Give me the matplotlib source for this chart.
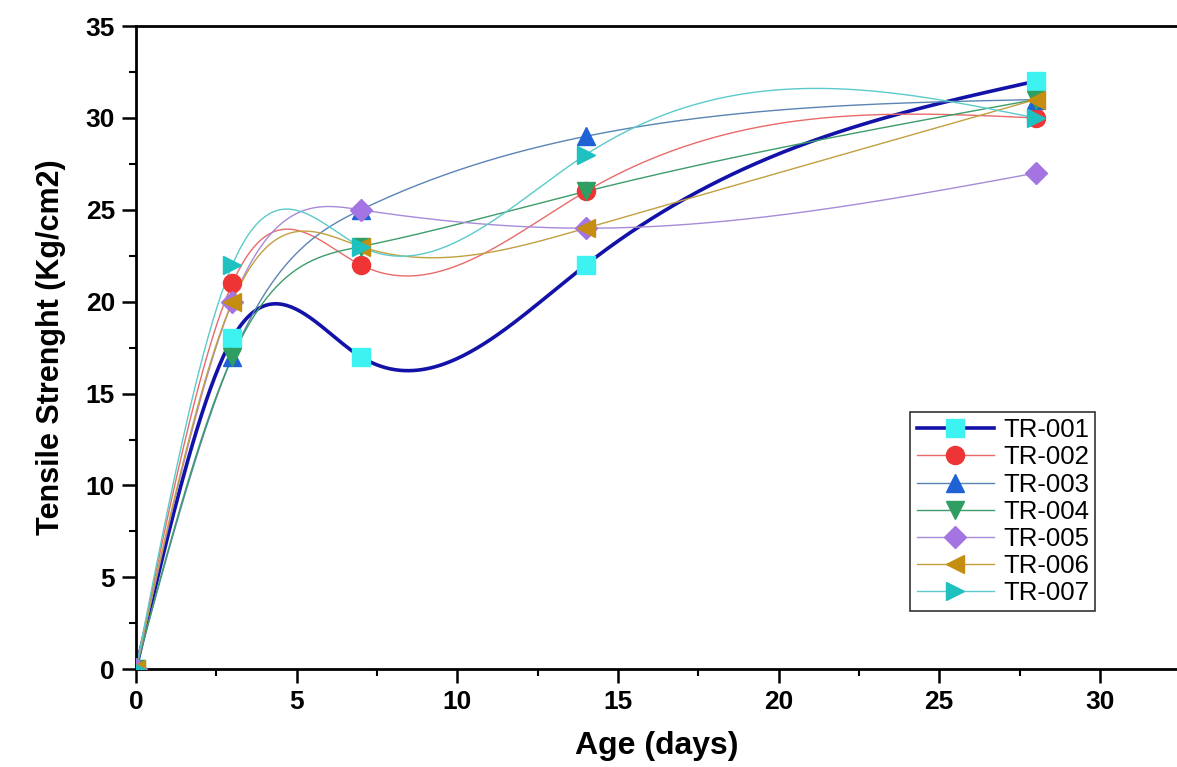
import numpy as np
import matplotlib

matplotlib.use("Agg")
import matplotlib.pyplot as plt
from matplotlib.ticker import MultipleLocator

# test ages (days) and tensile strength per mix
ages = [0, 3, 7, 14, 28]
labels = ["TR-001", "TR-002", "TR-003", "TR-004", "TR-005", "TR-006", "TR-007"]
tr001 = [0, 18, 17, 22, 32]
tr002 = [0, 21, 22, 26, 30]
tr003 = [0, 17, 25, 29, 31]
tr004 = [0, 17, 23, 26, 31]
tr005 = [0, 20, 25, 24, 27]
tr006 = [0, 20, 23, 24, 31]
tr007 = [0, 22, 23, 28, 30]
series = [tr001, tr002, tr003, tr004, tr005, tr006, tr007]


def natural_spline(x, y, xs):
    x = np.asarray(x, dtype=float)
    y = np.asarray(y, dtype=float)
    n = len(x)
    h = np.diff(x)
    A = np.zeros((n, n))
    b = np.zeros(n)
    A[0, 0] = A[-1, -1] = 1.0
    for i in range(1, n - 1):
        A[i, i - 1] = h[i - 1]
        A[i, i] = 2 * (h[i - 1] + h[i])
        A[i, i + 1] = h[i]
        b[i] = 6 * ((y[i + 1] - y[i]) / h[i] - (y[i] - y[i - 1]) / h[i - 1])
    m = np.linalg.solve(A, b)
    idx = np.clip(np.searchsorted(x, xs) - 1, 0, n - 2)
    x0, x1 = x[idx], x[idx + 1]
    hh = x1 - x0
    t0, t1 = x1 - xs, xs - x0
    return (m[idx] * t0**3 / (6 * hh) + m[idx + 1] * t1**3 / (6 * hh)
            + (y[idx] / hh - m[idx] * hh / 6) * t0
            + (y[idx + 1] / hh - m[idx + 1] * hh / 6) * t1)


styles = [
    dict(line="#1212A8", face="#3FF2F2", marker="s", lw=2.6),
    dict(line="#E86A6A", face="#EE3434", marker="o", lw=1.0),
    dict(line="#5A84B4", face="#1F62D6", marker="^", lw=1.0),
    dict(line="#3C9C6A", face="#2E9E62", marker="v", lw=1.0),
    dict(line="#A88AD8", face="#A474E2", marker="D", lw=1.0),
    dict(line="#C2A040", face="#C68E10", marker="<", lw=1.0),
    dict(line="#5CCACA", face="#1EC0C0", marker=">", lw=1.0),
]

plt.rcParams.update({
    "font.family": ["Liberation Sans", "DejaVu Sans"],
    "figure.facecolor": "white",
    "axes.facecolor": "white",
})

fig = plt.figure(figsize=(11.77, 7.67), dpi=100)
ax = fig.add_axes([0.1155, 0.1275, 0.8845, 0.8385])

xs = np.linspace(0, 28, 400)
for name, vals, st in zip(labels, series, styles):
    ys = natural_spline(ages, vals, xs)
    ax.plot(xs, ys, color=st["line"], lw=st["lw"], zorder=2)
    ms = 11 if st["marker"] == "D" else 13
    ax.plot(ages, vals, linestyle="none", marker=st["marker"], ms=ms,
            markerfacecolor=st["face"], markeredgecolor=st["face"], zorder=3)
    # proxy for legend
    ax.plot([], [], color=st["line"], lw=st["lw"], marker=st["marker"], ms=ms,
            markerfacecolor=st["face"], markeredgecolor=st["face"], label=name)

ax.set_xlim(0, 32.4)
ax.set_ylim(0, 35)
ax.xaxis.set_major_locator(MultipleLocator(5))
ax.xaxis.set_minor_locator(MultipleLocator(2.5))
ax.yaxis.set_major_locator(MultipleLocator(5))
ax.yaxis.set_minor_locator(MultipleLocator(2.5))
ax.tick_params(which="major", direction="out", length=10, width=1.8,
               labelsize=19, pad=5)
ax.tick_params(which="minor", direction="out", length=5, width=1.5)
for lab in ax.get_xticklabels() + ax.get_yticklabels():
    lab.set_fontweight("bold")

for side in ["left", "bottom", "top"]:
    ax.spines[side].set_linewidth(2.0)
ax.spines["right"].set_visible(False)

ax.set_xlabel("Age (days)", fontsize=23, fontweight="bold", labelpad=12)
ax.set_ylabel("Tensile Strenght (Kg/cm2)", fontsize=22, fontweight="bold",
              labelpad=14)

leg = ax.legend(loc="upper left", bbox_to_anchor=(0.744, 0.4), fontsize=18.5,
                handlelength=3.0, labelspacing=0.12, handletextpad=0.35,
                borderpad=0.25, borderaxespad=0, fancybox=False, framealpha=1)
leg.get_frame().set_edgecolor("#333333")
leg.get_frame().set_linewidth(1.2)

fig.savefig("out.png", dpi=100)
